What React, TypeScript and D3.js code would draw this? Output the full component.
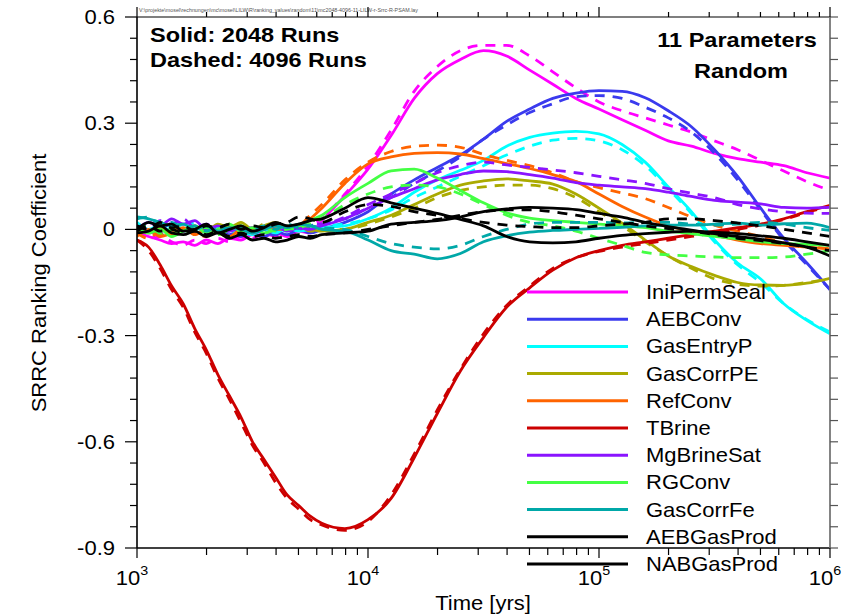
import React, { useEffect, useRef } from 'react';
import * as d3 from 'd3';

const WIDTH = 851;
const HEIGHT = 614;
const plot = { left: 137, right: 830, top: 17, bottom: 548 };
const FONT = 'Liberation Sans, Arial, Helvetica, sans-serif';
const STRETCH = 1.1;

// log10(time in years) at which the curves were read
const timeExponents = [
	3.0, 3.05, 3.1, 3.15, 3.2, 3.25, 3.3, 3.35, 3.4, 3.45, 3.5, 3.55, 3.6, 3.65, 3.7, 3.75, 3.8,
	3.9, 4.0, 4.1, 4.2, 4.3, 4.4, 4.5, 4.6, 4.7, 4.8, 4.9, 5.0, 5.1, 5.2, 5.3, 5.4, 5.5, 5.6, 5.7, 5.8, 5.9, 6.0,
];

const parameterNames = [
	'IniPermSeal', 'AEBConv', 'GasEntryP', 'GasCorrPE', 'RefConv', 'TBrine',
	'MgBrineSat', 'RGConv', 'GasCorrFe', 'AEBGasProd', 'NABGasProd',
];
const parameterColors = [
	'#ff00ff', '#3a3aee', '#00ffff', '#aaaa00', '#ff6400', '#cc0000',
	'#8a14ff', '#44ff44', '#00a8a8', '#000000', '#000000',
];

// solid = 2048 runs
const iniPermSealSolid = [-0.01, -0.02, -0.03, -0.04, -0.035, -0.045, -0.03, -0.04, -0.025, -0.03, -0.015, -0.02, -0.01, -0.02, -0.005, -0.01, 0.025,
	0.095, 0.17, 0.265, 0.37, 0.44, 0.48, 0.505, 0.49, 0.45, 0.41, 0.37, 0.34, 0.31, 0.28, 0.25, 0.235, 0.215, 0.2, 0.19, 0.18, 0.16, 0.145];
const aebConvSolid = [0.01, -0.01, 0.0, 0.015, -0.005, 0.01, -0.01, 0.005, -0.015, 0.0, -0.01, -0.02, -0.005, -0.015, 0.0, -0.01, 0.0,
	0.02, 0.05, 0.1, 0.14, 0.175, 0.21, 0.255, 0.305, 0.34, 0.37, 0.385, 0.392, 0.39, 0.372, 0.335, 0.29, 0.225, 0.15, 0.06, -0.025, -0.095, -0.17];
const gasEntryPSolid = [0.02, 0.0, 0.01, -0.005, 0.015, 0.0, 0.01, -0.01, 0.005, -0.005, -0.015, 0.0, -0.01, 0.005, -0.005, 0.0, 0.005,
	0.01, 0.03, 0.06, 0.105, 0.14, 0.167, 0.195, 0.235, 0.26, 0.272, 0.277, 0.27, 0.24, 0.19, 0.12, 0.05, -0.03, -0.095, -0.14, -0.21, -0.257, -0.295];
const gasCorrPESolid = [0.0, -0.01, 0.005, -0.015, 0.0, 0.01, -0.005, 0.015, 0.005, 0.02, 0.0, 0.01, 0.02, 0.005, 0.01, 0.0, -0.005,
	0.0, 0.02, 0.04, 0.07, 0.1, 0.125, 0.137, 0.143, 0.137, 0.128, 0.1, 0.06, 0.018, -0.03, -0.075, -0.105, -0.13, -0.15, -0.157, -0.158, -0.152, -0.138];
const refConvSolid = [-0.02, 0.0, -0.02, -0.01, 0.005, -0.015, 0.0, -0.01, -0.02, 0.0, -0.01, 0.005, 0.0, 0.0, 0.01, 0.03, 0.06,
	0.13, 0.185, 0.205, 0.215, 0.217, 0.213, 0.2, 0.186, 0.172, 0.155, 0.135, 0.1, 0.065, 0.035, 0.01, -0.005, -0.017, -0.03, -0.04, -0.045, -0.05, -0.055];
const tBrineSolid = [-0.03, -0.05, -0.1, -0.16, -0.21, -0.28, -0.34, -0.41, -0.47, -0.53, -0.6, -0.65, -0.7, -0.75, -0.78, -0.81, -0.83,
	-0.845, -0.82, -0.76, -0.645, -0.52, -0.4, -0.305, -0.22, -0.165, -0.115, -0.08, -0.06, -0.045, -0.035, -0.025, -0.015, -0.005, 0.005, 0.015, 0.03, 0.05, 0.068];
const mgBrineSatSolid = [0.0, 0.02, 0.01, 0.03, 0.015, 0.025, 0.0, 0.01, -0.005, 0.005, -0.01, 0.0, 0.01, -0.005, 0.005, 0.0, 0.01,
	0.03, 0.06, 0.09, 0.115, 0.14, 0.155, 0.165, 0.163, 0.155, 0.145, 0.132, 0.125, 0.12, 0.115, 0.105, 0.093, 0.082, 0.077, 0.072, 0.062, 0.06, 0.062];
const rgConvSolid = [0.005, -0.01, 0.0, -0.02, -0.005, 0.01, -0.01, 0.0, 0.015, -0.005, 0.005, -0.01, 0.0, 0.01, 0.01, 0.025, 0.04,
	0.09, 0.13, 0.165, 0.17, 0.145, 0.11, 0.075, 0.047, 0.032, 0.025, 0.02, 0.015, 0.01, 0.005, -0.005, -0.012, -0.02, -0.027, -0.035, -0.04, -0.042, -0.045];
const gasCorrFeSolid = [0.035, 0.03, 0.02, 0.01, 0.015, 0.0, 0.01, -0.005, 0.005, 0.0, -0.01, 0.0, 0.01, 0.005, 0.015, 0.01, 0.0,
	-0.005, -0.03, -0.06, -0.07, -0.083, -0.068, -0.035, -0.018, -0.008, -0.003, 0.0, 0.003, 0.006, 0.01, 0.012, 0.012, 0.015, 0.018, 0.012, 0.016, 0.018, 0.005];
const aebGasProdSolid = [0.0, 0.02, 0.01, 0.015, -0.005, 0.0, 0.015, -0.01, 0.0, 0.01, -0.005, 0.005, 0.02, 0.01, 0.015, 0.025, 0.03,
	0.06, 0.09, 0.075, 0.06, 0.045, 0.028, 0.01, -0.02, -0.035, -0.038, -0.035, -0.025, -0.017, -0.012, -0.008, -0.005, -0.008, -0.012, -0.018, -0.025, -0.035, -0.045];
const nabGasProdSolid = [-0.01, -0.005, 0.01, -0.01, -0.015, -0.005, -0.02, -0.01, -0.025, -0.015, -0.03, -0.025, -0.035, -0.03, -0.02, -0.025, -0.015,
	-0.01, -0.005, 0.015, 0.02, 0.025, 0.035, 0.05, 0.058, 0.062, 0.06, 0.056, 0.045, 0.035, 0.02, 0.008, -0.002, -0.012, -0.02, -0.028, -0.038, -0.05, -0.075];

// dashed = 4096 runs
const iniPermSealDashed = [0.0, -0.025, -0.02, -0.035, -0.045, -0.03, -0.04, -0.025, -0.035, -0.02, -0.025, -0.01, -0.02, 0.0, -0.01, 0.01, 0.03,
	0.1, 0.18, 0.28, 0.39, 0.46, 0.505, 0.52, 0.52, 0.49, 0.445, 0.4, 0.36, 0.335, 0.315, 0.295, 0.275, 0.25, 0.225, 0.195, 0.165, 0.135, 0.11];
const aebConvDashed = [-0.005, 0.0, -0.015, 0.005, 0.0, -0.01, 0.005, -0.01, -0.005, -0.02, 0.0, -0.01, -0.015, 0.0, -0.005, 0.01, 0.015,
	0.03, 0.06, 0.09, 0.13, 0.165, 0.205, 0.255, 0.295, 0.33, 0.355, 0.375, 0.378, 0.37, 0.345, 0.315, 0.275, 0.215, 0.14, 0.055, -0.03, -0.1, -0.17];
const gasEntryPDashed = [0.0, 0.015, -0.005, 0.01, 0.0, 0.02, -0.005, 0.005, -0.01, 0.01, 0.0, -0.01, 0.005, -0.005, 0.01, 0.0, 0.01,
	0.015, 0.03, 0.055, 0.09, 0.12, 0.15, 0.18, 0.21, 0.235, 0.252, 0.257, 0.25, 0.225, 0.18, 0.115, 0.045, -0.035, -0.1, -0.15, -0.21, -0.255, -0.29];
const gasCorrPEDashed = [0.01, -0.005, -0.015, 0.0, 0.01, -0.005, 0.005, 0.0, 0.015, 0.01, -0.005, 0.015, 0.005, 0.0, 0.01, -0.005, 0.0,
	0.0, 0.015, 0.035, 0.06, 0.09, 0.11, 0.12, 0.125, 0.125, 0.115, 0.09, 0.05, 0.01, -0.035, -0.075, -0.11, -0.14, -0.155, -0.16, -0.158, -0.15, -0.14];
const refConvDashed = [-0.01, -0.025, -0.005, -0.015, 0.0, -0.01, -0.02, 0.0, -0.005, -0.015, 0.005, -0.005, 0.01, 0.005, 0.01, 0.04, 0.07,
	0.14, 0.19, 0.22, 0.235, 0.238, 0.232, 0.212, 0.195, 0.18, 0.16, 0.135, 0.118, 0.103, 0.087, 0.062, 0.035, 0.012, -0.005, -0.02, -0.038, -0.048, -0.055];
const tBrineDashed = [-0.03, -0.06, -0.11, -0.17, -0.22, -0.29, -0.35, -0.42, -0.48, -0.545, -0.61, -0.66, -0.715, -0.76, -0.79, -0.82, -0.835,
	-0.85, -0.825, -0.75, -0.635, -0.51, -0.395, -0.295, -0.215, -0.16, -0.11, -0.08, -0.062, -0.05, -0.04, -0.03, -0.02, -0.01, 0.0, 0.012, 0.028, 0.048, 0.065];
const mgBrineSatDashed = [0.01, 0.0, 0.025, 0.015, 0.03, 0.005, 0.015, -0.005, 0.01, 0.0, 0.005, -0.01, 0.0, 0.01, 0.0, 0.015, 0.015,
	0.035, 0.07, 0.1, 0.13, 0.16, 0.18, 0.19, 0.182, 0.175, 0.168, 0.16, 0.15, 0.14, 0.13, 0.115, 0.102, 0.09, 0.07, 0.058, 0.05, 0.046, 0.045];
const rgConvDashed = [-0.005, 0.01, -0.01, 0.0, -0.015, 0.0, 0.005, -0.015, 0.0, 0.01, -0.01, 0.005, -0.005, 0.0, 0.005, 0.015, 0.03,
	0.07, 0.1, 0.12, 0.125, 0.12, 0.1, 0.07, 0.04, 0.02, 0.01, -0.005, -0.025, -0.045, -0.065, -0.072, -0.075, -0.078, -0.08, -0.08, -0.078, -0.07, -0.06];
const gasCorrFeDashed = [0.03, 0.035, 0.015, 0.02, 0.005, 0.01, -0.005, 0.01, 0.0, 0.005, 0.0, 0.01, 0.0, 0.015, 0.005, 0.01, 0.005,
	0.0, -0.02, -0.04, -0.05, -0.055, -0.045, -0.02, 0.0, 0.015, 0.02, 0.02, 0.02, 0.018, 0.02, 0.02, 0.015, 0.012, 0.015, 0.02, 0.015, 0.005, -0.003];
const aebGasProdDashed = [0.01, 0.0, 0.02, 0.005, 0.01, -0.005, 0.01, 0.005, 0.015, 0.0, 0.01, 0.005, 0.015, 0.02, 0.035, 0.03, 0.02,
	0.05, 0.07, 0.065, 0.05, 0.04, 0.03, 0.02, 0.012, 0.008, 0.005, 0.005, 0.01, 0.015, 0.02, 0.03, 0.03, 0.025, 0.018, 0.01, 0.0, -0.01, -0.02];
const nabGasProdDashed = [-0.005, 0.01, -0.005, 0.0, -0.01, 0.0, -0.015, -0.005, -0.02, -0.01, -0.02, -0.015, -0.025, -0.02, -0.015, -0.02, -0.015,
	-0.01, 0.0, 0.01, 0.02, 0.028, 0.04, 0.05, 0.055, 0.055, 0.05, 0.04, 0.03, 0.02, 0.01, 0.002, -0.005, -0.015, -0.025, -0.032, -0.04, -0.05, -0.06];

const solidValues = [iniPermSealSolid, aebConvSolid, gasEntryPSolid, gasCorrPESolid, refConvSolid, tBrineSolid,
	mgBrineSatSolid, rgConvSolid, gasCorrFeSolid, aebGasProdSolid, nabGasProdSolid];
const dashedValues = [iniPermSealDashed, aebConvDashed, gasEntryPDashed, gasCorrPEDashed, refConvDashed, tBrineDashed,
	mgBrineSatDashed, rgConvDashed, gasCorrFeDashed, aebGasProdDashed, nabGasProdDashed];

const yMajorTicks = [-0.9, -0.6, -0.3, 0, 0.3, 0.6];
const xMajorTicks = [1e3, 1e4, 1e5, 1e6];
const fileLabel = 'V:\\projekte\\mosel\\rechnungen\\mc\\mosel\\LILW\\R\\ranking_values\\random\\11\\mc2048-4096-11-LILW-r-Srrc-R-PSAM.lay';

export default function App() {
	const ref = useRef<SVGSVGElement>(null);

	useEffect(() => {
		const svg = d3.select(ref.current);
		svg.selectAll('*').remove();

		const x = d3.scaleLog().domain([1e3, 1e6]).range([plot.left, plot.right]);
		const y = d3.scaleLinear().domain([-0.9, 0.6]).range([plot.bottom, plot.top]);

		// stretched text, the original output is a bit wider than Arial
		const label = (g, tx, ty, str, size, opts: any = {}) => {
			const t = g
				.append('text')
				.attr('transform', `translate(${tx},${ty}) scale(${opts.stretch || STRETCH},1)`)
				.attr('font-family', FONT)
				.attr('font-size', size)
				.attr('font-weight', opts.bold ? 'bold' : 'normal')
				.attr('text-anchor', opts.anchor || 'start')
				.attr('fill', opts.fill || '#000')
				.text(str);
			return t;
		};

		svg.append('rect').attr('width', WIDTH).attr('height', HEIGHT).attr('fill', '#fff');

		svg.append('defs')
			.append('clipPath')
			.attr('id', 'plot-clip')
			.append('rect')
			.attr('x', plot.left)
			.attr('y', plot.top - 2)
			.attr('width', plot.right - plot.left)
			.attr('height', plot.bottom - plot.top + 4);

		// file path in the page header
		svg.append('text')
			.attr('x', 139)
			.attr('y', 12)
			.attr('font-family', FONT)
			.attr('font-size', 6)
			.attr('fill', '#555')
			.attr('textLength', 279)
			.attr('lengthAdjust', 'spacingAndGlyphs')
			.text(fileLabel);

		//curves
		const line = d3
			.line<number>()
			.x((_, i) => x(Math.pow(10, timeExponents[i])))
			.y(d => y(d))
			.curve(d3.curveMonotoneX);

		const curves = svg.append('g').attr('clip-path', 'url(#plot-clip)');
		parameterNames.forEach((name, i) => {
			curves.append('path')
				.datum(solidValues[i].slice(0, timeExponents.length))
				.attr('d', line)
				.attr('fill', 'none')
				.attr('stroke', parameterColors[i])
				.attr('stroke-width', 2.8);
			curves.append('path')
				.datum(dashedValues[i].slice(0, timeExponents.length))
				.attr('d', line)
				.attr('fill', 'none')
				.attr('stroke', parameterColors[i])
				.attr('stroke-width', 2.8)
				.attr('stroke-dasharray', '10,8');
		});

		// frame
		const frame = svg.append('g').attr('stroke', '#000').attr('fill', 'none');
		frame.append('line').attr('x1', plot.left).attr('x2', plot.left).attr('y1', plot.top).attr('y2', plot.bottom).attr('stroke-width', 1.6);
		frame.append('line').attr('x1', plot.left).attr('x2', plot.right).attr('y1', plot.bottom).attr('y2', plot.bottom).attr('stroke-width', 1.6);
		frame.append('line').attr('x1', plot.left).attr('x2', plot.right).attr('y1', plot.top).attr('y2', plot.top).attr('stroke-width', 1.2);
		frame.append('line').attr('x1', plot.right).attr('x2', plot.right).attr('y1', plot.top).attr('y2', plot.bottom).attr('stroke', '#777').attr('stroke-width', 1.8);

		const yMinor = d3.range(0, 26).map(k => -0.9 + k * 0.06).filter(v => !yMajorTicks.some(m => Math.abs(m - v) < 1e-6));
		const xMinor = x.ticks().filter(v => !xMajorTicks.includes(v));

		const ticks = svg.append('g').attr('stroke', '#000').attr('stroke-width', 1.2);
		yMajorTicks.forEach(v => {
			ticks.append('line').attr('x1', plot.left - 12).attr('x2', plot.left).attr('y1', y(v)).attr('y2', y(v));
			ticks.append('line').attr('x1', plot.right).attr('x2', plot.right + 8).attr('y1', y(v)).attr('y2', y(v)).attr('stroke', '#555');
		});
		yMinor.forEach(v => {
			ticks.append('line').attr('x1', plot.left - 7).attr('x2', plot.left).attr('y1', y(v)).attr('y2', y(v));
			ticks.append('line').attr('x1', plot.right).attr('x2', plot.right + 8).attr('y1', y(v)).attr('y2', y(v)).attr('stroke', '#555');
		});
		xMajorTicks.forEach(v => {
			ticks.append('line').attr('x1', x(v)).attr('x2', x(v)).attr('y1', plot.bottom).attr('y2', plot.bottom + 10);
			ticks.append('line').attr('x1', x(v)).attr('x2', x(v)).attr('y1', plot.top - 10).attr('y2', plot.top);
		});
		xMinor.forEach(v => {
			ticks.append('line').attr('x1', x(v)).attr('x2', x(v)).attr('y1', plot.bottom).attr('y2', plot.bottom + 7);
			ticks.append('line').attr('x1', x(v)).attr('x2', x(v)).attr('y1', plot.top - 5).attr('y2', plot.top);
		});

		// tick labels, plain hyphen for the minus sign
		yMajorTicks.forEach(v => {
			label(svg, 115, y(v) + 7, v === 0 ? '0' : v.toFixed(1), 20, { anchor: 'end' });
		});
		xMajorTicks.forEach(v => {
			const t = svg.append('text')
				.attr('transform', `translate(${x(v) - 5},585) scale(${STRETCH},1)`)
				.attr('font-family', FONT)
				.attr('font-size', 20)
				.attr('text-anchor', 'middle');
			t.append('tspan').text('10');
			t.append('tspan').attr('font-size', 13).attr('dy', -10).text(String(Math.round(Math.log10(v))));
		});

		// axis titles
		label(svg, 483, 610, 'Time [yrs]', 20, { anchor: 'middle' });
		svg.append('text')
			.attr('transform', `translate(46,283) rotate(-90) scale(${STRETCH},1)`)
			.attr('font-family', FONT)
			.attr('font-size', 20)
			.attr('text-anchor', 'middle')
			.text('SRRC Ranking Coefficient');

		// annotations
		label(svg, 150, 42, 'Solid: 2048 Runs', 21, { bold: true, stretch: 1.12 });
		label(svg, 150, 67, 'Dashed: 4096 Runs', 21, { bold: true, stretch: 1.12 });
		label(svg, 737, 47, '11 Parameters', 21, { bold: true, anchor: 'middle', stretch: 1.12 });
		label(svg, 741, 78, 'Random', 21, { bold: true, anchor: 'middle', stretch: 1.12 });

		// legend
		const legend = svg.append('g');
		parameterNames.forEach((name, i) => {
			const ly = 292 + i * 27.2;
			legend.append('line')
				.attr('x1', 527)
				.attr('x2', 628)
				.attr('y1', ly)
				.attr('y2', ly)
				.attr('stroke', parameterColors[i])
				.attr('stroke-width', 3);
			label(legend, 646, ly + 7, name, 20);
		});
	}, []);

	return (
		<svg
			ref={ref}
			width={WIDTH}
			height={HEIGHT}
			style={{ position: 'absolute', left: 0, top: 0, display: 'block' }}
		/>
	);
}
